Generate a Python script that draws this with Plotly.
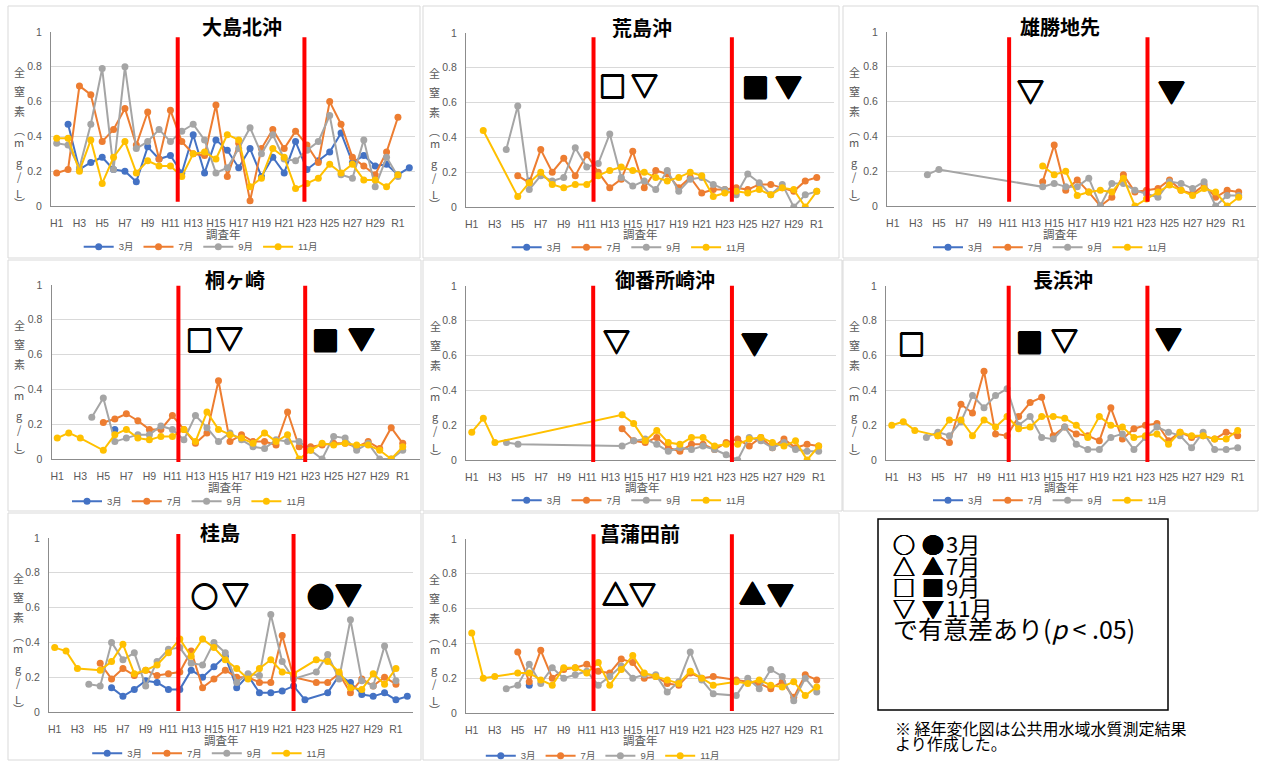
import plotly.graph_objects as go

N = None

# ---------------- data ----------------
years = ["H1", "H2", "H3", "H4", "H5", "H6", "H7", "H8", "H9", "H10",
         "H11", "H12", "H13", "H14", "H15", "H16", "H17", "H18", "H19", "H20",
         "H21", "H22", "H23", "H24", "H25", "H26", "H27", "H28", "H29", "H30",
         "R1", "R2"]
tick_labels = ["H1", "H3", "H5", "H7", "H9", "H11", "H13", "H15", "H17", "H19",
               "H21", "H23", "H25", "H27", "H29", "R1"]
y_ticks = [0, 0.2, 0.4, 0.6, 0.8, 1]
y_tick_text = ["0", "0.2", "0.4", "0.6", "0.8", "1"]
months = ["3月", "7月", "9月", "11月"]

# 大島北沖
oshima_mar = [N, 0.47, 0.21, 0.25, 0.28, 0.21, 0.20, 0.14, 0.34, 0.27, 0.29, 0.19, 0.41, 0.19, 0.38, 0.32,
              0.22, 0.33, 0.17, 0.28, 0.19, 0.37, 0.21, 0.26, 0.31, 0.42, 0.25, 0.29, 0.23, 0.24, 0.18, 0.22]
oshima_jul = [0.19, 0.21, 0.69, 0.64, 0.37, 0.44, 0.56, 0.35, 0.54, 0.27, 0.55, 0.37, 0.30, 0.29, 0.58, 0.17,
              0.36, 0.03, 0.33, 0.44, 0.33, 0.43, 0.35, 0.25, 0.60, 0.47, 0.28, 0.23, 0.18, 0.31, 0.51, N]
oshima_sep = [0.36, 0.35, 0.22, 0.47, 0.79, 0.21, 0.80, 0.33, 0.37, 0.44, 0.37, 0.43, 0.47, 0.38, 0.19, 0.22,
              0.33, 0.45, 0.30, 0.41, 0.27, 0.26, 0.32, 0.37, 0.52, 0.18, 0.16, 0.38, 0.11, 0.28, 0.17, N]
oshima_nov = [0.39, 0.39, 0.20, 0.38, 0.13, 0.28, 0.37, 0.19, 0.26, 0.23, 0.23, 0.17, 0.30, 0.31, 0.27, 0.41,
              0.38, 0.11, 0.16, 0.33, 0.28, 0.10, 0.13, 0.16, 0.24, 0.19, 0.24, 0.15, 0.15, 0.11, 0.18, N]

# 荒島沖
arashima_mar = [N, N, N, N, N, 0.15, N, N, N, N, N, N, N, N, N, N,
                N, N, N, N, N, N, N, N, N, N, N, N, N, N, N, N]
arashima_jul = [N, N, N, N, 0.18, 0.14, 0.33, 0.20, 0.28, 0.18, 0.30, 0.20, 0.11, 0.16, 0.32, 0.11,
                0.21, 0.19, 0.11, 0.17, 0.08, 0.10, 0.10, 0.11, 0.10, 0.13, 0.13, 0.11, 0.09, 0.15, 0.17, N]
arashima_sep = [N, N, N, 0.33, 0.58, 0.10, 0.18, 0.15, 0.17, 0.34, 0.23, 0.25, 0.42, 0.17, 0.12, 0.15,
                0.10, 0.21, 0.09, 0.16, 0.17, 0.13, 0.10, 0.07, 0.19, 0.14, 0.07, 0.13, 0.00, 0.07, 0.09, N]
arashima_nov = [N, 0.44, N, N, 0.06, 0.14, 0.20, 0.13, 0.11, 0.13, 0.13, 0.18, 0.21, 0.23, 0.21, 0.20,
                0.17, 0.15, 0.17, 0.20, 0.18, 0.06, 0.08, 0.09, 0.08, 0.10, 0.07, 0.11, 0.10, 0.00, 0.09, N]

# 雄勝地先
ogatsu_mar = [N, N, N, N, N, N, N, N, N, N, N, N, N, N, N, N,
              N, N, N, N, N, N, N, N, N, N, N, N, N, N, N, N]
ogatsu_jul = [N, N, N, N, N, N, N, N, N, N, N, N, N, 0.14, 0.35, 0.09,
              0.15, 0.08, 0.00, 0.05, 0.18, 0.08, 0.09, 0.10, 0.15, 0.09, 0.07, 0.12, 0.05, 0.09, 0.08, N]
ogatsu_sep = [N, N, N, 0.18, 0.21, N, N, N, N, N, N, N, N, 0.11, 0.13, 0.11,
              0.11, 0.16, 0.00, 0.13, 0.13, 0.09, 0.07, 0.05, 0.14, 0.13, 0.10, 0.14, 0.00, 0.06, 0.06, N]
ogatsu_nov = [N, N, N, N, N, N, N, N, N, N, N, N, N, 0.23, 0.18, 0.20,
              0.06, 0.08, 0.09, 0.08, 0.16, 0.00, 0.04, 0.08, 0.12, 0.09, 0.06, 0.10, 0.08, 0.00, 0.05, N]

# 桐ヶ崎
kiri_mar = [N, N, N, N, N, 0.17, N, N, N, N, N, N, N, N, N, N,
            N, N, N, N, N, N, N, N, N, N, N, N, N, N, N, N]
kiri_jul = [N, N, N, N, 0.21, 0.23, 0.26, 0.22, 0.17, 0.17, 0.25, 0.17, 0.09, 0.15, 0.45, 0.10,
            0.14, 0.10, 0.10, 0.08, 0.27, 0.07, 0.07, 0.08, 0.09, 0.09, 0.07, 0.10, 0.06, 0.18, 0.09, N]
kiri_sep = [N, N, N, 0.24, 0.35, 0.10, 0.12, 0.14, 0.14, 0.19, 0.17, 0.11, 0.25, 0.18, 0.10, 0.15,
            0.11, 0.07, 0.06, 0.11, 0.10, 0.10, 0.05, 0.00, 0.13, 0.12, 0.05, 0.09, 0.00, 0.00, 0.05, N]
kiri_nov = [0.12, 0.15, 0.12, N, 0.05, 0.14, 0.17, 0.12, 0.11, 0.13, 0.13, 0.17, 0.10, 0.27, 0.17, 0.14,
            0.12, 0.09, 0.15, 0.10, 0.14, 0.00, 0.05, 0.09, 0.08, 0.09, 0.08, 0.08, 0.05, 0.00, 0.07, N]

# 御番所崎沖
goban_mar = [N, N, N, N, N, N, N, N, N, N, N, N, N, N, N, N,
             N, N, N, N, N, N, N, N, N, N, N, N, N, N, N, N]
goban_jul = [N, N, N, N, N, N, N, N, N, N, N, N, N, 0.18, 0.11, 0.10,
             0.13, 0.07, 0.05, 0.09, 0.09, 0.06, 0.10, 0.12, 0.08, 0.13, 0.07, 0.12, 0.07, 0.09, 0.08, N]
goban_sep = [N, N, N, 0.10, 0.09, N, N, N, N, N, N, N, N, 0.08, 0.11, 0.12,
             0.09, 0.05, 0.07, 0.06, 0.08, 0.06, 0.03, 0.00, 0.13, 0.11, 0.07, 0.10, 0.06, 0.05, 0.05, N]
goban_nov = [0.16, 0.24, 0.10, N, N, N, N, N, N, N, N, N, N, 0.26, 0.21, 0.11,
             0.17, 0.10, 0.09, 0.13, 0.13, 0.08, 0.09, 0.09, 0.12, 0.13, 0.10, 0.08, 0.11, 0.00, 0.08, N]

# 長浜沖
naga_mar = [N, N, N, N, N, N, N, N, N, N, N, N, N, N, N, N,
            N, N, N, N, N, N, N, N, N, N, N, N, N, N, N, N]
naga_jul = [N, N, N, N, 0.14, 0.10, 0.32, 0.27, 0.51, 0.15, 0.14, 0.25, 0.33, 0.36, 0.14, 0.19,
            0.15, 0.14, 0.11, 0.30, 0.12, 0.18, 0.20, 0.21, 0.11, 0.16, 0.13, 0.14, 0.12, 0.16, 0.14, N]
naga_sep = [N, N, N, 0.13, 0.16, 0.14, 0.22, 0.37, 0.30, 0.37, 0.41, 0.20, 0.25, 0.13, 0.12, 0.19,
            0.09, 0.06, 0.06, 0.13, 0.15, 0.06, 0.13, 0.19, 0.16, 0.14, 0.07, 0.16, 0.06, 0.06, 0.07, N]
naga_nov = [0.20, 0.22, 0.17, N, 0.14, 0.23, 0.23, 0.14, 0.23, 0.19, 0.25, 0.18, 0.19, 0.25, 0.25, 0.24,
            0.20, 0.13, 0.25, 0.20, 0.19, 0.13, 0.14, 0.15, 0.09, 0.16, 0.14, 0.14, 0.12, 0.12, 0.17, N]

# 桂島
katsura_mar = [N, N, N, N, N, 0.14, 0.09, 0.13, 0.18, 0.17, 0.13, 0.13, 0.24, 0.20, 0.26, 0.32,
               0.14, 0.21, 0.11, 0.11, 0.12, 0.15, 0.07, N, 0.11, 0.21, 0.17, 0.10, 0.09, 0.11, 0.07, 0.09]
katsura_jul = [N, N, N, N, 0.28, 0.19, 0.25, 0.21, 0.24, 0.21, 0.22, 0.23, 0.35, 0.14, 0.19, 0.24,
               0.20, 0.20, 0.17, 0.17, 0.44, 0.20, N, 0.17, 0.17, 0.22, 0.11, 0.19, 0.15, 0.20, 0.16, N]
katsura_sep = [N, N, N, 0.16, 0.15, 0.40, 0.30, 0.34, 0.15, 0.29, 0.36, 0.37, 0.28, 0.27, 0.40, 0.34,
               0.17, 0.22, 0.21, 0.56, 0.29, 0.19, N, 0.23, 0.33, 0.19, 0.53, 0.18, 0.15, 0.38, 0.18, N]
katsura_nov = [0.37, 0.35, 0.25, N, 0.24, 0.29, 0.39, 0.22, 0.24, 0.27, 0.34, 0.42, 0.32, 0.42, 0.37, 0.30,
               0.25, 0.19, 0.25, 0.30, 0.23, 0.22, N, 0.30, 0.29, 0.23, 0.14, 0.13, 0.22, 0.16, 0.25, N]

# 菖蒲田前
shobu_mar = [N, N, N, N, N, 0.16, N, N, N, N, N, N, N, N, N, N,
             N, N, N, N, N, N, N, N, N, N, N, N, N, N, N, N]
shobu_jul = [N, N, N, N, 0.35, 0.18, 0.36, 0.20, 0.25, 0.26, 0.28, 0.24, 0.23, 0.31, 0.29, 0.20,
             0.21, 0.17, 0.16, 0.23, 0.20, 0.21, N, 0.19, 0.18, 0.17, 0.14, 0.18, 0.09, 0.22, 0.19, N]
shobu_sep = [N, N, N, 0.14, 0.16, 0.28, 0.17, 0.26, 0.20, 0.22, 0.24, 0.16, 0.21, 0.27, 0.20, 0.22,
             0.22, 0.12, 0.18, 0.35, 0.19, 0.11, N, 0.10, 0.20, 0.14, 0.25, 0.21, 0.07, 0.20, 0.12, N]
shobu_nov = [0.46, 0.20, 0.21, N, 0.23, 0.23, 0.19, 0.16, 0.26, 0.26, 0.23, 0.29, 0.16, 0.25, 0.33, 0.23,
             0.21, 0.19, 0.17, 0.24, 0.20, 0.16, N, 0.18, 0.17, 0.19, 0.16, 0.15, 0.18, 0.10, 0.15, N]

station_names = ["大島北沖", "荒島沖", "雄勝地先", "桐ヶ崎", "御番所崎沖", "長浜沖", "桂島", "菖蒲田前"]
station_series = [
    [oshima_mar, oshima_jul, oshima_sep, oshima_nov],
    [arashima_mar, arashima_jul, arashima_sep, arashima_nov],
    [ogatsu_mar, ogatsu_jul, ogatsu_sep, ogatsu_nov],
    [kiri_mar, kiri_jul, kiri_sep, kiri_nov],
    [goban_mar, goban_jul, goban_sep, goban_nov],
    [naga_mar, naga_jul, naga_sep, naga_nov],
    [katsura_mar, katsura_jul, katsura_sep, katsura_nov],
    [shobu_mar, shobu_jul, shobu_sep, shobu_nov],
]
significance = [
    [],
    ["□", "▽", "■", "▼"],
    ["▽", "▼"],
    ["□", "▽", "■", "▼"],
    ["▽", "▼"],
    ["□", "■", "▽", "▼"],
    ["○", "▽", "●", "▼"],
    ["△", "▽", "▲", "▼"],
]
key_open = ["○", "△", "□", "▽"]
key_filled = ["●", "▲", "■", "▼"]
key_texts = ["3月", "7月", "9月", "11月"]
key_footer = "で有意差あり(<i>p</i> < .05)"
note_lines = ["※ 経年変化図は公共用水域水質測定結果", "より作成した。"]

# ---------------- styles / layout (pixels) ----------------
W, H = 1261, 762
colors = ["#4472C4", "#ED7D31", "#A5A5A5", "#FFC000"]
TXT = "#595959"
CJK = "Noto Sans CJK JP"
TICKF = "Liberation Sans, Noto Sans CJK JP"
HEAVY = "0.7px 0 0 #000, -0.7px 0 0 #000, 0 0.7px 0 #000, 0 -0.7px 0 #000"
MEDIUM = "0.45px 0 0 #000, -0.45px 0 0 #000, 0 0.45px 0 #000, 0 -0.45px 0 #000"

panels = [
    dict(plot=(51, 32, 415, 206), border=(8, 6, 420, 258), title=(241.7, 26.7), xtitle=(223.3, 233.7),
         legend=(200.7, 246.7), ytx=19, red=(10.64, 21.78), red_y=(37.3, 201.7),
         sym_pos=[]),
    dict(plot=(466, 33, 834, 207), border=(423, 6, 839, 258), title=(642, 27.7), xtitle=(640.3, 234.3),
         legend=(628.7, 247.3), ytx=434.7, red=(10.59, 22.62), red_y=(37.3, 201.7),
         sym_pos=[(612.7, 86), (644.7, 85), (755.3, 86.7), (788.7, 86)]),
    dict(plot=(887, 32, 1256, 206), border=(843, 6, 1258, 258), title=(1060, 26.7), xtitle=(1060, 233.7),
         legend=(1050, 247.3), ytx=854, red=(10.09, 22.09), red_y=(37.3, 201.7),
         sym_pos=[(1030.7, 90), (1171.7, 90)]),
    dict(plot=(51.5, 285, 420, 459), border=(8, 260, 421, 511), title=(235, 279.7), xtitle=(225, 486.7),
         legend=(189, 501.3), ytx=19, red=(10.52, 21.53), red_y=(285.7, 462),
         sym_pos=[(199, 339.7), (229.3, 338), (325.7, 339.7), (361, 338)]),
    dict(plot=(466, 286, 836, 460), border=(423, 260, 842, 511), title=(664.7, 279.7), xtitle=(642, 486.7),
         legend=(628.7, 500.3), ytx=435, red=(10.50, 22.5), red_y=(285.7, 462),
         sym_pos=[(616.3, 340.7), (754.7, 342)]),
    dict(plot=(886, 286, 1255, 460), border=(843, 260, 1258, 511), title=(1062.7, 279.7), xtitle=(1061.7, 486.7),
         legend=(1050, 500.3), ytx=854, red=(10.14, 22.17), red_y=(285.7, 462),
         sym_pos=[(911, 343), (1029.3, 341.3), (1064, 339.7), (1168.7, 338)]),
    dict(plot=(49, 538, 413, 712), border=(8, 513, 421, 760), title=(220, 532.7), xtitle=(221.7, 740),
         legend=(209.2, 753.3), ytx=18.3, red=(10.87, 21.0), red_y=(534, 711),
         sym_pos=[(204.3, 595), (235.7, 593.3), (320, 595), (348.3, 593.3)]),
    dict(plot=(466, 539, 834, 713), border=(423, 513, 839, 760), title=(640.3, 533.3), xtitle=(640.3, 740),
         legend=(602.8, 755.7), ytx=434.7, red=(10.59, 22.62), red_y=(534.3, 711),
         sym_pos=[(615.3, 593.3), (642, 593.3), (752, 593.3), (780.3, 593.3)]),
]
ytitle_chars = [("全", 0.771), ("窒", 0.66), ("素", 0.545), ("︵", 0.436), ("m", 0.365),
                ("g", 0.254), ("/", 0.174), ("L", 0.073), ("︶", 0.015)]


def px(x):
    return x / W


def py(y):
    return 1 - y / H


fig = go.Figure()
shapes = []
annotations = []
layout_extra = {}

for k, (name, series) in enumerate(zip(station_names, station_series)):
    i = k + 1
    cfg = panels[k]
    sfx = "" if i == 1 else str(i)
    xa, ya = "x" + sfx, "y" + sfx
    lg = "legend" + sfx
    for m, (mon, vals) in enumerate(zip(months, series)):
        fig.add_trace(go.Scatter(
            x=years, y=vals, name=mon, mode="lines+markers", connectgaps=True,
            line=dict(color=colors[m], width=2),
            marker=dict(color=colors[m], size=7),
            xaxis=xa, yaxis=ya, legend=lg, showlegend=True,
        ))
    x0, y0, x1, y1 = cfg["plot"]
    layout_extra["xaxis" + sfx] = dict(
        domain=[px(x0), px(x1)], anchor=ya, type="category", range=[-0.5, 31.5],
        categoryorder="array", categoryarray=years,
        tickmode="array", tickvals=tick_labels, ticktext=tick_labels,
        showgrid=False, showline=True, linecolor="#8C8C8C", linewidth=1,
        ticks="outside", ticklen=7, tickcolor="rgba(0,0,0,0)",
        tickfont=dict(family=TICKF, size=10.5, color=TXT), fixedrange=True,
    )
    layout_extra["yaxis" + sfx] = dict(
        domain=[py(y1), py(y0)], anchor=xa, range=[0, 1],
        tickmode="array", tickvals=y_ticks, ticktext=y_tick_text,
        showgrid=True, gridcolor="#D9D9D9", gridwidth=1, zeroline=False,
        showline=True, linecolor="#8C8C8C", linewidth=1,
        ticks="outside", ticklen=6, tickcolor="rgba(0,0,0,0)",
        tickfont=dict(family=TICKF, size=10.5, color=TXT), fixedrange=True,
    )
    layout_extra[lg] = dict(
        orientation="h", x=px(cfg["legend"][0]), xanchor="center",
        y=py(cfg["legend"][1]), yanchor="middle", bgcolor="rgba(0,0,0,0)",
        font=dict(family=TICKF, size=9.5, color=TXT), itemwidth=30,
        tracegroupgap=0,
    )
    # panel border
    bx0, by0, bx1, by1 = cfg["border"]
    shapes.append(dict(type="rect", xref="paper", yref="paper", x0=px(bx0), x1=px(bx1),
                       y0=py(by1), y1=py(by0), line=dict(color="#D9D9D9", width=1), layer="below"))
    # red period lines
    for rx in cfg["red"]:
        shapes.append(dict(type="line", xref=xa, yref="paper", x0=rx, x1=rx,
                           y0=py(cfg["red_y"][1]), y1=py(cfg["red_y"][0]),
                           line=dict(color="#FF0000", width=4), layer="above"))
    # title
    annotations.append(dict(text="<b>%s</b>" % name, xref="paper", yref="paper",
                            x=px(cfg["title"][0]), y=py(cfg["title"][1]), showarrow=False,
                            xanchor="center", yanchor="middle",
                            font=dict(family=CJK, size=20, color="#000000")))
    # x title
    annotations.append(dict(text="調査年", xref="paper", yref="paper",
                            x=px(cfg["xtitle"][0]), y=py(cfg["xtitle"][1]), showarrow=False,
                            xanchor="center", yanchor="middle",
                            font=dict(family=CJK, size=11.5, color=TXT)))
    # y title (vertical stacked characters)
    for ch, yv in ytitle_chars:
        annotations.append(dict(text=ch, xref="paper", yref=ya, x=px(cfg["ytx"]), y=yv,
                                showarrow=False, xanchor="center", yanchor="middle",
                                font=dict(family=CJK, size=11, color=TXT)))
    # significance symbols
    for sym, (sx, sy) in zip(significance[k], cfg["sym_pos"]):
        annotations.append(dict(text=sym, xref="paper", yref="paper", x=px(sx), y=py(sy),
                                showarrow=False, xanchor="center", yanchor="middle",
                                font=dict(family=CJK, size=27, color="#000000", shadow=HEAVY)))

# key box
shapes.append(dict(type="rect", xref="paper", yref="paper", x0=px(878), x1=px(1168),
                   y0=py(710), y1=py(519), line=dict(color="#000000", width=1.5)))
key_y = [543.3, 565, 586, 606.7]
for so, sf, t, yy in zip(key_open, key_filled, key_texts, key_y):
    annotations.append(dict(text=so, xref="paper", yref="paper", x=px(903.5), y=py(yy),
                            showarrow=False, xanchor="center", yanchor="middle",
                            font=dict(family=CJK, size=22, color="#000000", shadow=MEDIUM)))
    annotations.append(dict(text=sf, xref="paper", yref="paper", x=px(933), y=py(yy),
                            showarrow=False, xanchor="center", yanchor="middle",
                            font=dict(family=CJK, size=22, color="#000000", shadow=MEDIUM)))
    annotations.append(dict(text=t, xref="paper", yref="paper", x=px(944), y=py(yy),
                            showarrow=False, xanchor="left", yanchor="middle",
                            font=dict(family=CJK, size=22, color="#000000")))
annotations.append(dict(text=key_footer, xref="paper", yref="paper", x=px(891), y=py(628.3),
                        showarrow=False, xanchor="left", yanchor="middle",
                        font=dict(family=CJK, size=25, color="#000000")))
note_y = [728.3, 743.3]
for t, yy in zip(note_lines, note_y):
    annotations.append(dict(text=t, xref="paper", yref="paper", x=px(893), y=py(yy),
                            showarrow=False, xanchor="left", yanchor="middle",
                            font=dict(family=CJK, size=16, color="#000000")))

fig.update_layout(
    width=W, height=H, margin=dict(l=0, r=0, t=0, b=0, autoexpand=False),
    paper_bgcolor="white", plot_bgcolor="white",
    shapes=shapes, annotations=annotations, **layout_extra,
)

fig.write_html("out.html", config={"displayModeBar": False},
               post_script="document.body.style.margin='0';")
